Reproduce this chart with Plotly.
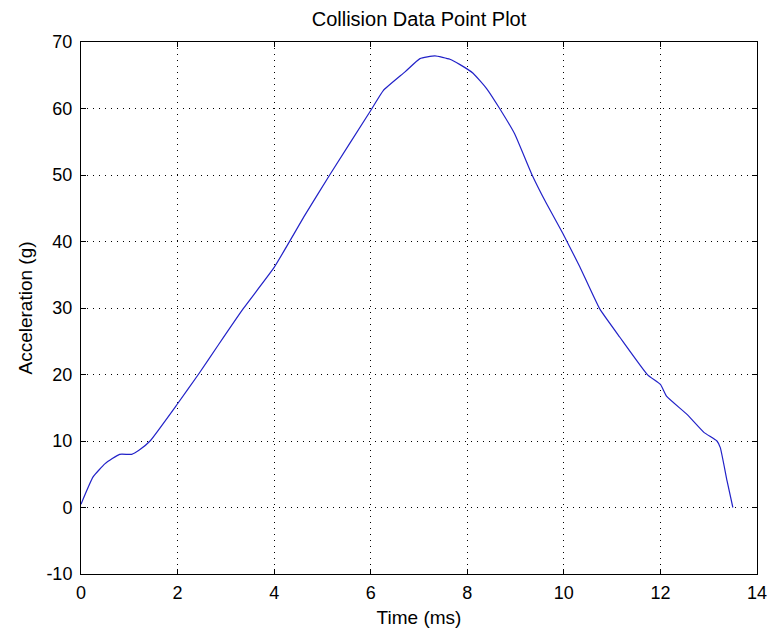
import plotly.graph_objects as go

time_ms = [0.0, 0.25, 0.5, 0.8, 1.05, 1.2, 1.43, 2.0, 2.43, 2.84, 3.36, 4.0, 4.64,
           5.15, 6.0, 6.26, 6.71, 7.02, 7.33, 7.64, 7.85, 8.12, 8.4, 8.67, 8.98,
           9.33, 9.64, 9.98, 10.33, 10.74, 11.16, 11.74, 12.0, 12.13, 12.55,
           12.9, 13.17, 13.24, 13.38, 13.5]
accel_g = [0.5, 4.6, 6.6, 8.0, 8.0, 8.6, 10.0, 15.6, 20.0, 24.4, 29.9, 36.1, 44.0,
           50.0, 59.7, 62.7, 65.5, 67.5, 67.9, 67.4, 66.6, 65.3, 63.0, 60.0, 56.2,
           50.2, 45.7, 41.2, 36.2, 29.9, 25.6, 19.9, 18.5, 16.7, 14.0,
           11.3, 10.0, 9.0, 4.0, 0.0]

x_ticks = [0, 2, 4, 6, 8, 10, 12, 14]
y_ticks = [-10, 0, 10, 20, 30, 40, 50, 60, 70]

FONT = "Liberation Sans, Arial, sans-serif"

fig = go.Figure()
fig.add_trace(go.Scatter(x=time_ms, y=accel_g, mode="lines",
                         line=dict(color="#2222c8", width=1.2, shape="spline", smoothing=0.4),
                         showlegend=False, hoverinfo="skip"))

axis_common = dict(
    showline=True, linecolor="black", linewidth=1, mirror="ticks",
    ticks="inside", ticklen=5, tickcolor="black", tickwidth=1,
    showgrid=True, gridcolor="black", gridwidth=1, griddash="1px,5px",
    zeroline=False, tickfont=dict(family=FONT, size=18, color="black"),
    automargin=False,
)

fig.update_xaxes(range=[0, 14], tickvals=x_ticks, ticktext=[str(v) for v in x_ticks],
                 ticklabelstandoff=2,
                 title=dict(text="Time (ms)", font=dict(family=FONT, size=19, color="black"),
                            standoff=9),
                 **axis_common)
fig.update_yaxes(range=[-10, 70], tickvals=y_ticks, ticktext=[str(v) for v in y_ticks],
                 ticklabelstandoff=4,
                 title=dict(text="Acceleration (g)", font=dict(family=FONT, size=19, color="black"),
                            standoff=8),
                 **axis_common)

fig.update_layout(
    width=768, height=631,
    margin=dict(l=81, r=11, t=42, b=57),
    paper_bgcolor="white", plot_bgcolor="white",
    title=dict(text="Collision Data Point Plot", x=(81 + 757) / 2 / 768, xanchor="center",
               y=1 - 19 / 631, yanchor="middle",
               font=dict(family=FONT, size=20, color="black")),
)

fig.write_html("out.html", config={"displayModeBar": False},
               post_script="document.body.style.margin='0';document.body.style.overflow='hidden';")
